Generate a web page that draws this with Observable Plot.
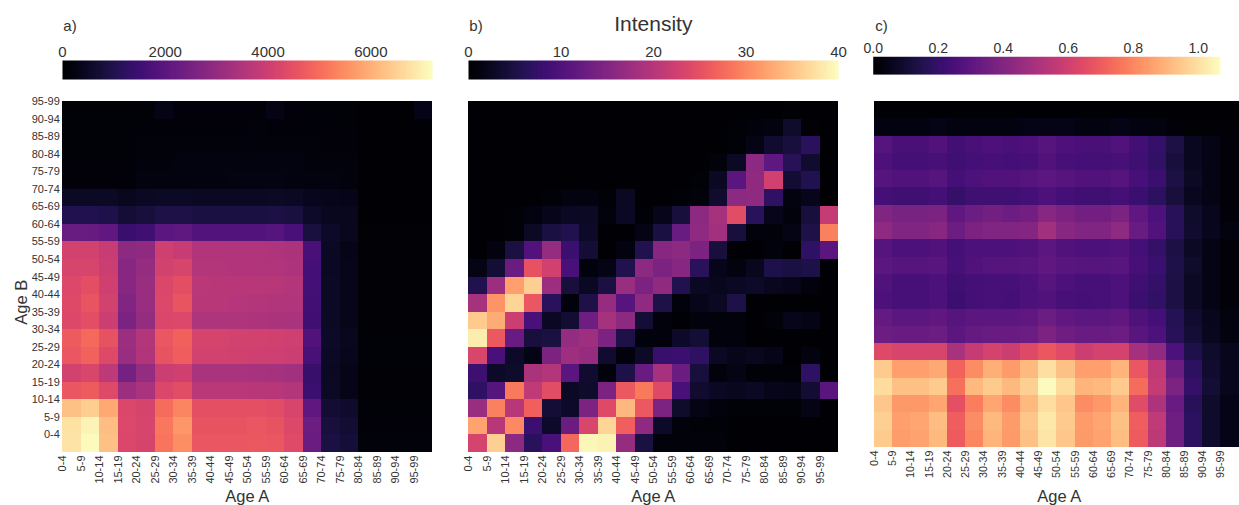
<!DOCTYPE html>
<html><head><meta charset="utf-8">
<script src="https://cdn.jsdelivr.net/npm/d3@7"></script>
<script src="https://cdn.jsdelivr.net/npm/@observablehq/plot@0.6"></script>
<style>
html,body{margin:0;padding:0;background:#fff;}
#root{position:relative;width:1239px;height:505px;overflow:hidden;font-family:"Liberation Sans",Arial,sans-serif;color:#333;}
#root > div{position:absolute;white-space:nowrap;line-height:1;}
#root svg{overflow:visible;}
</style></head><body><div id="root"></div>
<script>
// Age groups (shared by both axes)
const ageGroups = ["0-4","5-9","10-14","15-19","20-24","25-29","30-34","35-39","40-44","45-49",
  "50-54","55-59","60-64","65-69","70-74","75-79","80-84","85-89","90-94","95-99"];
const panelTitles = ["a)", "b)", "c)"];
const colorTitle = "Intensity";
const xTitle = "Age A", yTitle = "Age B";
const colorMax = [7200, 40, 1.068];
const colorTicksA = [0, 2000, 4000, 6000];
const colorTicksB = [0, 10, 20, 30, 40];
const colorTicksC = [0, 0.2, 0.4, 0.6, 0.8, 1.0];

// Rows listed from Age B "95-99" (top) down to "0-4" (bottom); columns Age A "0-4" .. "95-99"
const panelA = [
 [80,80,80,80,100,260,120,120,120,120,120,260,120,110,100,90,40,40,40,300],
 [100,100,100,100,130,140,140,140,140,140,150,140,140,130,120,110,30,30,30,30],
 [100,100,100,100,150,150,160,160,160,170,170,160,160,150,140,130,30,30,30,30],
 [120,120,120,120,180,190,200,200,200,210,220,200,200,180,170,160,30,30,30,30],
 [120,120,120,130,200,210,220,220,220,230,240,230,220,210,200,180,30,30,30,30],
 [480,500,480,420,450,480,500,460,460,460,470,480,460,380,350,330,40,40,40,40],
 [1000,1000,940,720,790,900,920,860,860,860,860,880,840,540,430,400,50,50,50,50],
 [2230,2200,2100,1420,1500,2000,2080,1850,1850,1850,1850,1900,1700,830,560,420,70,70,70,70],
 [4100,4100,3890,2880,2950,4030,3890,3530,3530,3510,3500,3480,3430,1660,450,330,80,80,80,80],
 [4180,4180,3960,2800,3020,4100,4180,3560,3560,3540,3520,3500,3450,1580,470,340,80,80,80,80],
 [4280,4430,4030,2800,3100,4250,4430,3670,3650,3650,3620,3600,3550,1580,480,350,80,80,80,80],
 [4320,4570,4100,2660,3100,4280,4570,3600,3600,3580,3560,3540,3500,1550,490,350,80,80,80,80],
 [4300,4430,3960,2590,3020,4250,4280,3460,3460,3460,3440,3420,3380,1510,480,350,80,80,80,80],
 [4720,4930,4500,3170,3560,4610,4790,4150,4150,4100,4100,4050,4000,1800,540,400,90,90,90,90],
 [4610,4820,4320,3100,3530,4540,4750,4100,4100,4050,4000,4000,3950,1660,520,380,90,90,90,90],
 [4100,4230,3740,2450,3020,3960,4030,3380,3380,3380,3350,3330,3250,1400,470,320,80,80,80,80],
 [4600,4720,4320,3170,3380,4250,4400,3670,3670,3670,3650,3600,3550,1440,480,330,80,80,80,80],
 [6250,6450,5900,4250,4150,5000,5350,4450,4450,4450,4450,4400,4200,2100,700,600,100,100,100,100],
 [6750,7050,6200,4300,4200,5150,5600,4550,4550,4550,4600,4550,4300,2300,800,700,120,120,120,120],
 [6800,7150,6250,4250,4150,5100,5500,4600,4600,4600,4650,4600,4350,2250,850,750,150,150,150,150]
];
const panelB = [
 [0.3,0.2,0.2,0.2,0.2,0.2,0.2,0.2,0.2,0.2,0.2,0.2,0.2,0.2,0.2,0.3,0.3,0.4,0.3,0.2],
 [0.2,0.2,0.2,0.2,0.2,0.2,0.2,0.2,0.2,0.2,0.2,0.2,0.3,0.3,0.5,1,1.2,3.2,0.4,0.2],
 [0.2,0.2,0.2,0.2,0.2,0.2,0.2,0.2,0.2,0.2,0.2,0.2,0.3,0.3,0.5,1.5,3.5,4.5,6.5,0.2],
 [0.2,0.2,0.2,0.2,0.2,0.2,0.2,0.2,0.2,0.3,0.3,0.3,0.3,0.8,2.8,16,11.5,6.2,3.5,0.2],
 [0.2,0.2,0.2,0.2,0.2,0.3,0.3,0.3,0.3,0.3,0.3,0.3,0.5,2.5,11,16.3,22.5,3.8,5.5,0.2],
 [0.2,0.2,0.2,0.3,0.5,1.2,1.2,0.5,2.5,0.3,0.3,0.5,0.8,3.5,16,16.3,7,1.2,2,0.2],
 [0.3,0.3,0.5,1.2,2,2.5,2.8,1,2.5,0.5,2,4.5,16,18.5,24.5,6.5,2,1,4.5,21.5],
 [0.2,0.2,0.5,2.8,4.8,5.5,3,0.3,0.3,1.5,4.7,12.4,16.4,18,4.5,1,0.8,1.5,5,29.5],
 [0.2,1.2,4.8,10,17,8,4,0.3,1.2,5.5,15.5,16,14.5,4.5,0.3,0.3,1,0.3,7,11],
 [1.5,4,12.5,25,22.5,9.5,1,1.5,5.5,16,14.5,15.5,6.5,2,1.2,2.2,5.2,4.8,5,0.2],
 [5.5,17.5,32,36,17.5,4.5,2.5,4.7,17.2,14.5,16.3,5.5,2.5,2.2,2.5,3,2.2,2,1,0.2],
 [18.5,31,36.5,25.5,6.5,1,5,17,10.5,16.4,5,1,2,2.5,5,0.3,0.3,0.3,0.3,0.2],
 [35.5,33,22,9.5,2.5,3.8,13,18.5,16,4,1,0.3,1,0.8,1,0.3,0.8,2,1.5,0.2],
 [38.5,25.8,12.4,4.5,4.8,16.8,17.8,14.5,5,1,1,3,4,1,1,0.3,0.3,0.3,0.3,0.2],
 [23.5,9.5,3,1.5,14.5,17.8,17,3.5,1,3,7.8,8,7,2.5,2,2.2,1.8,0.3,1.2,0.2],
 [8.2,3,3.2,19,19.7,11,3.5,1,5,12.4,18.5,12.6,4.5,1,1.5,0.5,0.5,0.5,7,0.2],
 [7,10.5,28.8,20.8,24.4,2.8,3.2,14.5,25.8,28.8,24,9.5,3.5,2.5,2.2,2.5,2,1.8,3.8,11],
 [17.2,29.5,20,26.5,4,3,14.5,24,34,25.8,14.5,3.2,1.5,1,0.5,0.5,0.5,0.5,1.5,0.2],
 [32.2,20,30,8,3,12.5,23.5,36.5,26.5,16.3,3,1,0.5,0.5,0.3,0.3,0.3,0.3,0.3,0.2],
 [23,36,16,6.5,9.5,27.3,39.5,39,16.8,4.8,1,0.8,0.8,0.8,0.3,0.3,0.3,0.3,0.3,0.2]
];
const panelC = [
 [0.005,0.005,0.005,0.005,0.005,0.005,0.005,0.005,0.005,0.005,0.005,0.005,0.005,0.005,0.005,0.005,0.005,0.005,0.005,0.005],
 [0.03,0.03,0.03,0.045,0.03,0.03,0.03,0.03,0.045,0.045,0.045,0.03,0.03,0.045,0.03,0.03,0.02,0.01,0.01,0.01],
 [0.28,0.25,0.25,0.27,0.23,0.25,0.26,0.25,0.26,0.28,0.26,0.25,0.25,0.27,0.23,0.2,0.13,0.065,0.04,0.02],
 [0.26,0.235,0.235,0.245,0.225,0.235,0.245,0.235,0.245,0.27,0.245,0.235,0.235,0.245,0.225,0.19,0.12,0.065,0.04,0.02],
 [0.28,0.27,0.27,0.28,0.235,0.255,0.27,0.27,0.28,0.3,0.28,0.27,0.27,0.28,0.245,0.215,0.13,0.075,0.04,0.02],
 [0.235,0.225,0.225,0.235,0.2,0.225,0.225,0.225,0.235,0.255,0.235,0.225,0.225,0.235,0.215,0.18,0.12,0.065,0.04,0.02],
 [0.395,0.375,0.375,0.385,0.31,0.34,0.355,0.34,0.355,0.415,0.385,0.355,0.355,0.385,0.31,0.255,0.17,0.085,0.055,0.02],
 [0.43,0.395,0.395,0.415,0.34,0.385,0.395,0.395,0.405,0.48,0.415,0.395,0.395,0.43,0.33,0.27,0.17,0.095,0.055,0.03],
 [0.28,0.255,0.255,0.27,0.235,0.255,0.255,0.255,0.27,0.3,0.27,0.255,0.255,0.27,0.235,0.2,0.13,0.075,0.04,0.02],
 [0.3,0.28,0.28,0.29,0.245,0.27,0.28,0.28,0.29,0.31,0.29,0.28,0.28,0.29,0.245,0.215,0.14,0.085,0.04,0.02],
 [0.27,0.245,0.245,0.255,0.225,0.235,0.245,0.245,0.255,0.28,0.255,0.245,0.245,0.255,0.225,0.2,0.13,0.075,0.04,0.02],
 [0.255,0.245,0.245,0.255,0.215,0.235,0.245,0.235,0.255,0.27,0.245,0.235,0.245,0.255,0.215,0.19,0.13,0.075,0.04,0.02],
 [0.32,0.3,0.3,0.31,0.28,0.3,0.3,0.3,0.31,0.34,0.31,0.3,0.3,0.31,0.265,0.235,0.16,0.095,0.055,0.03],
 [0.34,0.33,0.33,0.34,0.3,0.32,0.33,0.33,0.34,0.385,0.35,0.33,0.33,0.34,0.29,0.255,0.17,0.105,0.065,0.03],
 [0.64,0.62,0.62,0.62,0.5,0.575,0.61,0.585,0.64,0.685,0.65,0.585,0.61,0.61,0.49,0.44,0.255,0.14,0.085,0.055],
 [0.95,0.855,0.855,0.875,0.715,0.81,0.885,0.845,0.91,1.0,0.93,0.855,0.855,0.9,0.685,0.555,0.34,0.18,0.095,0.055],
 [0.99,0.93,0.93,0.95,0.75,0.91,0.95,0.91,0.96,1.06,0.99,0.9,0.91,0.95,0.735,0.575,0.385,0.2,0.105,0.055],
 [0.94,0.835,0.835,0.865,0.66,0.78,0.865,0.81,0.91,0.995,0.94,0.81,0.835,0.9,0.65,0.51,0.33,0.17,0.085,0.045],
 [0.96,0.855,0.865,0.92,0.705,0.81,0.91,0.845,0.94,1.015,0.95,0.845,0.865,0.93,0.705,0.555,0.35,0.18,0.085,0.045],
 [0.95,0.85,0.86,0.91,0.7,0.8,0.9,0.84,0.93,1.01,0.94,0.84,0.86,0.92,0.7,0.55,0.35,0.18,0.085,0.045]
];

const root = document.getElementById("root");
const FONT = '"Liberation Sans", Arial, sans-serif';
const W = 370, H = 351, TOP = 101;
const panelX = [62.3, 468.3, 874.3];
const bw = W / 20, bh = H / 20;

function place(el, left, top) {
  const d = document.createElement("div");
  d.style.left = left + "px"; d.style.top = top + "px";
  d.appendChild(el); root.appendChild(d); return d;
}
function label(text, left, top, size, extra) {
  const d = document.createElement("div");
  d.textContent = text;
  d.style.left = left + "px"; d.style.top = top + "px";
  d.style.fontSize = size + "px";
  if (extra) Object.assign(d.style, extra);
  root.appendChild(d); return d;
}

function heatmap(matrix, max, showY) {
  const cells = [];
  matrix.forEach((row, k) => row.forEach((v, i) => cells.push({a: ageGroups[i], b: ageGroups[19 - k], v})));
  const ml = showY ? 62.3 : 0;
  return Plot.plot({
    width: ml + W, height: H + 60,
    marginLeft: ml, marginRight: 0, marginTop: 0, marginBottom: 60,
    style: {fontFamily: FONT, fontSize: "11px", color: "#333", background: "transparent", overflow: "visible"},
    x: {type: "band", domain: ageGroups, padding: 0, round: false},
    y: {type: "band", domain: ageGroups.slice().reverse(), padding: 0, round: false, axis: showY ? undefined : null},
    color: {type: "linear", scheme: "magma", domain: [0, max], clamp: true},
    marks: [
      Plot.cell(cells, {x: "a", y: "b", fill: "v", inset: 0, shapeRendering: "crispEdges"}),
      Plot.axisX({tickRotate: -90, tickSize: 0, tickPadding: 3, dx: -bw / 2, label: null}),
      showY ? Plot.axisY({tickSize: 0, tickPadding: 3, dy: -bh / 2, label: null}) : null
    ]
  });
}

function colorbar(max, ticks, fmt) {
  return Plot.plot({
    width: W + 40, height: 79,
    marginLeft: 20, marginRight: 20, marginTop: 60, marginBottom: 0,
    style: {fontFamily: FONT, fontSize: "15px", color: "#333", background: "transparent", overflow: "visible"},
    x: {domain: [0, max]},
    y: {domain: [0, 1], axis: null},
    color: {type: "linear", scheme: "magma", domain: [0, max]},
    marks: [
      Plot.raster({fill: (x, y) => x, x1: 0, x2: max, y1: 0, y2: 1, width: W, height: 1}),
      Plot.axisX({anchor: "top", ticks, tickFormat: fmt, tickSize: 0, tickPadding: 4, label: null})
    ]
  });
}

const mats = [panelA, panelB, panelC];
const tickSets = [colorTicksA, colorTicksB, colorTicksC];
const fmts = [d3.format("d"), d3.format("d"), d3.format(".1f")];
mats.forEach((m, p) => {
  const x0 = panelX[p];
  place(colorbar(colorMax[p], tickSets[p], fmts[p]), x0 - 20, 0);
  const hm = heatmap(m, colorMax[p], p === 0);
  place(hm, p === 0 ? x0 - 62.3 : x0, TOP);
  label(panelTitles[p], x0 + 1, 17.5, 15);
  label(xTitle, x0, 488, 16.5, {width: W + "px", textAlign: "center"});
});
label(colorTitle, panelX[1], 12.9, 21, {width: W + "px", textAlign: "center"});
label(yTitle, 20.5 - 30, 302 - 8.5, 16.5, {width: "60px", textAlign: "center", transform: "rotate(-90deg)", transformOrigin: "50% 50%"});
</script>
</body></html>
